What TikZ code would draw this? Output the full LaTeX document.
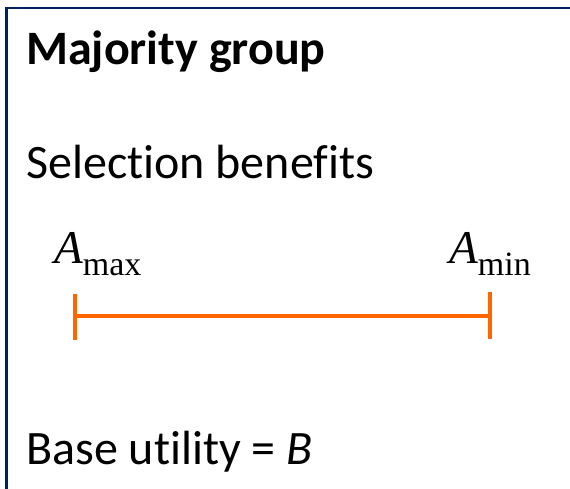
\documentclass[tikz,border=0pt]{standalone}
\usepackage{fontspec}
\setmainfont{Carlito}[Ligatures=NoCommon]
\newfontfamily\tms{Liberation Serif}
\definecolor{navy}{RGB}{0,32,96}
\definecolor{orangeline}{RGB}{255,102,0}
\begin{document}
\begin{tikzpicture}[x=1pt,y=-1pt,
  lbl/.style={anchor=base west,inner sep=0pt,font=\fontsize{48}{56}\selectfont},
  amath/.style={anchor=base west,inner sep=0pt},
  bar/.style={draw=orangeline,line width=4pt}]
\useasboundingbox (0,0) rectangle (570,488);
\draw[navy,line width=2.5pt] (6.5,495) -- (6.5,8) -- (580,8);
\node[lbl,font=\fontsize{48}{56}\selectfont\bfseries] (title) at (26,64) {Majority group};
\node[lbl] (sel) at (26,178) {Selection benefits};
\node[amath] (amax) at (54,263) {\tms\fontsize{47}{52}\selectfont\itshape A\raisebox{-12pt}{\fontsize{34}{38}\selectfont\upshape max}};
\node[amath] (amin) at (449,263) {\tms\fontsize{47}{52}\selectfont\itshape A\raisebox{-12pt}{\fontsize{34}{38}\selectfont\upshape min}};
\coordinate (l) at (75,316);
\coordinate (r) at (490,316);
\draw[bar] (l) -- (r);
\draw[bar] ([yshift=-24pt]l) -- ([yshift=22pt]l);
\draw[bar] ([yshift=-23pt]r) -- ([yshift=24pt]r);
\node[lbl] (base) at (26,464) {Base utility = \textit{B}};
\end{tikzpicture}
\end{document}
